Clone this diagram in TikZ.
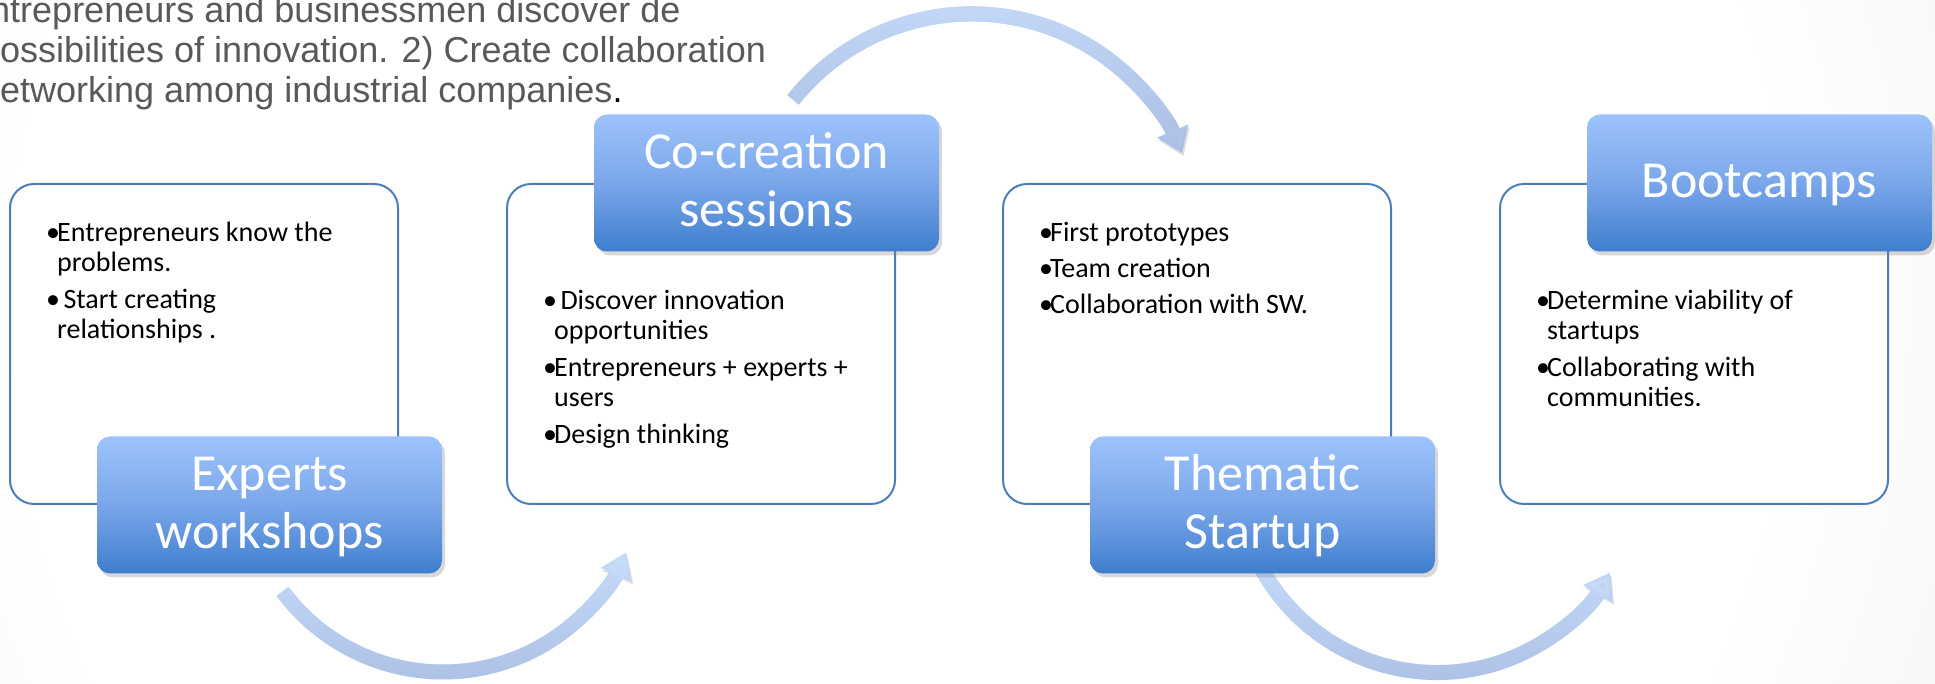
\documentclass[tikz,border=0pt]{standalone}
\usepackage{fontspec}
\setmainfont{Carlito}
\newfontfamily\notefont{Liberation Sans}
\usetikzlibrary{arrows.meta}
\usetikzlibrary{shadows}
\usetikzlibrary{fadings}

\definecolor{boxline}{RGB}{74,126,187}
\definecolor{titletop}{RGB}{157,195,251}
\definecolor{titlemid}{RGB}{122,166,234}
\definecolor{titlebot}{RGB}{62,126,205}
\definecolor{arrowlight}{RGB}{200,220,251}
\definecolor{arrowdark}{RGB}{168,189,226}
\definecolor{bggray}{RGB}{210,210,216}
\definecolor{notegray}{RGB}{89,89,89}

\pgfdeclareradialshading{slidebg}{\pgfpoint{0bp}{0bp}}{color(0bp)=(white); color(20bp)=(white); color(50bp)=(bggray); color(100bp)=(bggray)}

\newcommand{\bul}{\makebox[11pt][l]{\textbullet}}
\newcommand{\cont}{\hspace*{11pt}}
\newcommand{\lstrut}{\rule{0pt}{24pt}}
\newcommand{\tstrut}{\rule{0pt}{44pt}}
\newcommand{\bstrut}{\rule[-15pt]{0pt}{15pt}}

\begin{document}
\begin{tikzpicture}[x=1pt, y=1pt,
  infobox/.style={draw=boxline, line width=2pt, fill=white, rounded corners=24pt,
    minimum width=388pt, minimum height=320pt},
  title/.style={rounded corners=13pt, minimum width=345pt, minimum height=137pt, inner sep=0pt,
    top color=titletop, bottom color=titlebot, middle color=titlemid,
    text=white, align=center, font=\fontsize{52}{58}\selectfont,
    drop shadow={shadow xshift=3pt, shadow yshift=-4pt, opacity=0.3}},
  bullets/.style={anchor=north west, align=left, inner sep=0pt, font=\fontsize{28}{30}\selectfont},
  flow/.style={line width=15pt, draw=arrowdark, -{Triangle[width=32pt, length=24pt]},
    preaction={draw=black, opacity=0.12, transform canvas={xshift=1.5pt, yshift=-3pt}},
    postaction={draw=arrowlight, path fading=south}}]
  \useasboundingbox (0,0) rectangle (1935,684);
  \clip (0,0) rectangle (1935,684);
  \shade[shading=slidebg] (-200,-720) rectangle (2000,1480);

  % text at the top left
  \node[anchor=north west, align=left, inner sep=0pt, text=notegray,
    font=\notefont\fontsize{36}{40}\selectfont] (goals) at (-20,692)
    {\rule{0pt}{30pt}\hspace*{-14pt}Entrepreneurs and businessmen discover de\\
     possibilities of innovation. 2) Create collaboration\\
     networking among industrial companies{\color{black}.}};

  % curved arrows
  \path (443,212) ++(216.7:200) coordinate (arcA);
  \path (971.7,441.5) ++(141.4:228.6) coordinate (arcB);
  \path (1437,211.5) ++(205:200) coordinate (arcC);
  \draw[flow] (arcA) arc[start angle=216.7, end angle=336.2, radius=200] coordinate (arcAend);
  \draw[flow] (arcB) arc[start angle=141.4, end angle=23, radius=228.6] coordinate (arcBend);
  \draw[flow] (arcC) arc[start angle=205, end angle=329.9, radius=200] coordinate (arcCend);

  % boxes
  \node[infobox] (expertsbox) at (204,340) {};
  \node[infobox] (cocreationbox) at (701,340) {};
  \node[infobox] (thematicbox) at (1197,340) {};
  \node[infobox] (bootcampsbox) at (1694,340) {};

  \node[bullets] (expertstext) at ([shift={(37,-34)}]expertsbox.north west)
    {\lstrut\bul Entrepreneurs know the\\ \cont problems.\\[7pt]
     \bul\ Start creating\\ \cont relationships .};
  \node[bullets] (cocreationtext) at ([shift={(37,-102)}]cocreationbox.north west)
    {\lstrut\bul\ Discover innovation\\ \cont opportunities\\[7pt]
     \bul Entrepreneurs + experts +\\ \cont users\\[7pt]
     \bul Design thinking};
  \node[bullets] (thematictext) at ([shift={(37,-34)}]thematicbox.north west)
    {\lstrut\bul First prototypes\\[6pt]
     \bul Team creation\\[6pt]
     \bul Collaboration with SW.};
  \node[bullets] (bootcampstext) at ([shift={(37,-102)}]bootcampsbox.north west)
    {\lstrut\bul Determine viability of\\ \cont startups\\[7pt]
     \bul Collaborating with\\ \cont communities.};

  % titles
  \node[title] (experts) at ([xshift=65.5pt]expertsbox.south) {\tstrut Experts\\workshops\bstrut};
  \node[title] (cocreation) at ([xshift=65.5pt]cocreationbox.north) {\tstrut Co-creation\\sessions\bstrut};
  \node[title] (thematic) at ([xshift=65.5pt]thematicbox.south) {\tstrut Thematic\\Startup\bstrut};
  \node[title] (bootcamps) at ([xshift=65.5pt]bootcampsbox.north) {\tstrut Bootcamps\bstrut};
\end{tikzpicture}
\end{document}
